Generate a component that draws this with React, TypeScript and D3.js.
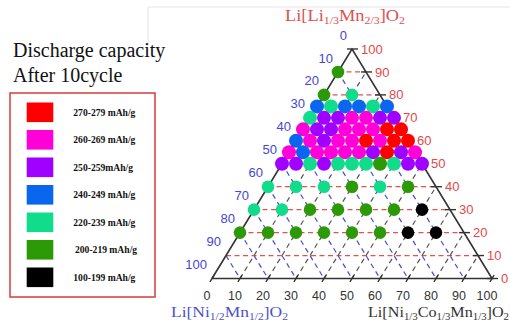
import * as d3 from "d3";

// capacity classes (legend order)
const CLASS_LABELS = [
  "270-279 mAh/g",
  "260-269 mAh/g",
  "250-259mAh/g",
  "240-249 mAh/g",
  "220-239 mAh/g",
  "200-219 mAh/g",
  "100-199 mAh/g",
];
const CLASS_COLORS = ["#ff0000", "#ff00d8", "#a000ff", "#0a66ee", "#10dc8c", "#2c9a06", "#000000"];

// rows of measured compositions: Li2MnO3 content (%), step of NCM333 content (%), class per point
const ROW_TOP = [90, 80, 75, 70, 65, 60, 55, 50, 40, 30, 20];
const ROW_STEP = [10, 10, 5, 5, 5, 5, 5, 5, 10, 10, 10];
const ROW_CLASS = [
  [5],
  [5, 4],
  [3, 4, 3, 3, 4, 3],
  [4, 2, 2, 1, 1, 2, 2],
  [1, 2, 2, 1, 1, 1, 0, 0],
  [3, 1, 2, 1, 1, 0, 1, 0, 0],
  [1, 3, 1, 1, 1, 1, 2, 0, 2, 1],
  [2, 2, 4, 2, 4, 4, 4, 5, 4, 2, 2],
  [4, 4, 4, 5, 4, 5],
  [4, 4, 5, 5, 5, 5, 6],
  [5, 5, 5, 5, 5, 5, 6, 6],
];

const TICKS = d3.range(0, 101, 10);
const GRID = d3.range(10, 100, 10);

const SANS = "'Liberation Sans', Arial, sans-serif";
const SERIF = "'Liberation Serif', 'Times New Roman', serif";

export default function App() {
  // u = R + T/2 maps along the base, T upward
  const xs = d3.scaleLinear().domain([0, 100]).range([212, 492]);
  const ys = d3.scaleLinear().domain([0, 100]).range([278.5, 49]);
  const pt = (T: number, R: number): [number, number] => [xs(R + T / 2), ys(T)];

  const tri = d3.line()([pt(0, 0), pt(0, 100), pt(100, 0), pt(0, 0)]) ?? "";

  const dots = ROW_TOP.flatMap((T, ri) =>
    ROW_CLASS[ri].map((c, i) => {
      const [x, y] = pt(T, i * ROW_STEP[ri]);
      return { x, y, c, dense: ROW_STEP[ri] === 5, key: `${T}-${i}` };
    })
  );

  // direction of constant-R lines for base ticks
  const [bx0, by0] = pt(0, 0);
  const [bx1, by1] = pt(10, 0);
  const dl = Math.hypot(bx1 - bx0, by1 - by0);
  const dx = (bx1 - bx0) / dl;
  const dy = (by1 - by0) / dl;

  const sub = (s: string, size: number, shift: number) => (
    <tspan fontSize={size} dy={shift}>
      {s}
    </tspan>
  );

  return (
    <svg
      width={510}
      height={329}
      style={{ position: "absolute", left: 0, top: 0, background: "#fff" }}
    >
      <line x1={148} x2={510} y1={7} y2={7} stroke="#e4e4e4" />
      <line x1={148} x2={148} y1={7} y2={45} stroke="#e4e4e4" />

      {/* legend */}
      <text x={13} y={57} fontFamily={SERIF} fontSize={20} fill="#111">
        Discharge capacity
      </text>
      <text x={13} y={82} fontFamily={SERIF} fontSize={20} fill="#111">
        After 10cycle
      </text>
      <rect x={10} y={93} width={145} height={204} fill="none" stroke="#d43c3c" strokeWidth={1.5} />
      {CLASS_LABELS.map((l, i) => (
        <g key={l} transform={`translate(0,${112.3 + i * 27.5})`}>
          <rect x={26.7} y={-9.8} width={26.6} height={19.6} fill={CLASS_COLORS[i]} />
          <text
            x={i === 5 ? 75 : 73.3}
            y={0}
            dy="0.35em"
            fontFamily={SERIF}
            fontWeight="bold"
            fontSize={9.6}
            fill="#111"
          >
            {l}
          </text>
        </g>
      ))}

      {/* grid */}
      {GRID.map((t) => {
        const [x1, y1] = pt(t, 0);
        const [x2, y2] = pt(t, 100 - t);
        return (
          <line key={`t${t}`} x1={x1} y1={y1} x2={x2} y2={y2} stroke="#e85050" strokeWidth={1.2} strokeDasharray="5,3.5" />
        );
      })}
      {GRID.map((l) => {
        const [x1, y1] = pt(100 - l, 0);
        const [x2, y2] = pt(0, 100 - l);
        return (
          <line key={`l${l}`} x1={x1} y1={y1} x2={x2} y2={y2} stroke="#4a4ad6" strokeWidth={1.2} strokeDasharray="5,4" />
        );
      })}
      {GRID.map((r) => {
        const [x1, y1] = pt(0, r);
        const [x2, y2] = pt(100 - r, r);
        return (
          <line key={`r${r}`} x1={x1} y1={y1} x2={x2} y2={y2} stroke="#555" strokeWidth={1.2} strokeDasharray="5,4" />
        );
      })}

      <path d={tri} fill="none" stroke="#333" strokeWidth={1.6} />

      {/* ticks */}
      {TICKS.map((t) => {
        const [x, y] = pt(t, 100 - t);
        return <line key={`rt${t}`} x1={x - 5} x2={x + 6} y1={y} y2={y} stroke="#333" strokeWidth={1.4} />;
      })}
      {TICKS.map((r) => {
        const [x, y] = pt(0, r);
        return (
          <line key={`bt${r}`} x1={x - 4 * dx} y1={y - 4 * dy} x2={x + 4 * dx} y2={y + 4 * dy} stroke="#333" strokeWidth={1.4} />
        );
      })}

      {/* points */}
      {dots.map((d) => (
        <circle key={d.key} cx={d.x} cy={d.y} r={d.dense ? 7 : 6.3} fill={CLASS_COLORS[d.c]} />
      ))}

      {/* axis labels */}
      {TICKS.map((t) => {
        const [x, y] = pt(t, 100 - t);
        return (
          <text key={`rl${t}`} x={x + 9} y={y} dy="0.35em" fontFamily={SANS} fontSize={13} fill="#e44848">
            {t}
          </text>
        );
      })}
      {TICKS.map((l) => {
        const [x, y] = pt(100 - l, 0);
        return (
          <text key={`ll${l}`} x={x - 5} y={y - 14} dy="0.35em" textAnchor="end" fontFamily={SANS} fontSize={13} fill="#4646d4">
            {l}
          </text>
        );
      })}
      {TICKS.map((r) => {
        const [x, y] = pt(0, r);
        return (
          <text key={`bl${r}`} x={x - 5} y={y + 17} dy="0.35em" textAnchor="middle" fontFamily={SANS} fontSize={12.5} fill="#333">
            {r}
          </text>
        );
      })}

      {/* end-member names */}
      <text x={345} y={21} textAnchor="middle" fontFamily={SERIF} fontSize={17} fill="#e05050" textLength={120} lengthAdjust="spacingAndGlyphs">
        Li[Li{sub("1/3", 11, 3)}
        <tspan fontSize={17} dy={-3}>Mn</tspan>
        {sub("2/3", 11, 3)}
        <tspan fontSize={17} dy={-3}>]O</tspan>
        {sub("2", 11, 3)}
      </text>
      <text x={171} y={317} fontFamily={SERIF} fontSize={15} fill="#5050cc" textLength={117} lengthAdjust="spacingAndGlyphs">
        Li[Ni{sub("1/2", 10, 3)}
        <tspan fontSize={15} dy={-3}>Mn</tspan>
        {sub("1/2", 10, 3)}
        <tspan fontSize={15} dy={-3}>]O</tspan>
        {sub("2", 10, 3)}
      </text>
      <text x={368} y={317} fontFamily={SERIF} fontSize={15} fill="#333" textLength={141} lengthAdjust="spacingAndGlyphs">
        Li[Ni{sub("1/3", 10, 3)}
        <tspan fontSize={15} dy={-3}>Co</tspan>
        {sub("1/3", 10, 3)}
        <tspan fontSize={15} dy={-3}>Mn</tspan>
        {sub("1/3", 10, 3)}
        <tspan fontSize={15} dy={-3}>]O</tspan>
        {sub("2", 10, 3)}
      </text>
    </svg>
  );
}
